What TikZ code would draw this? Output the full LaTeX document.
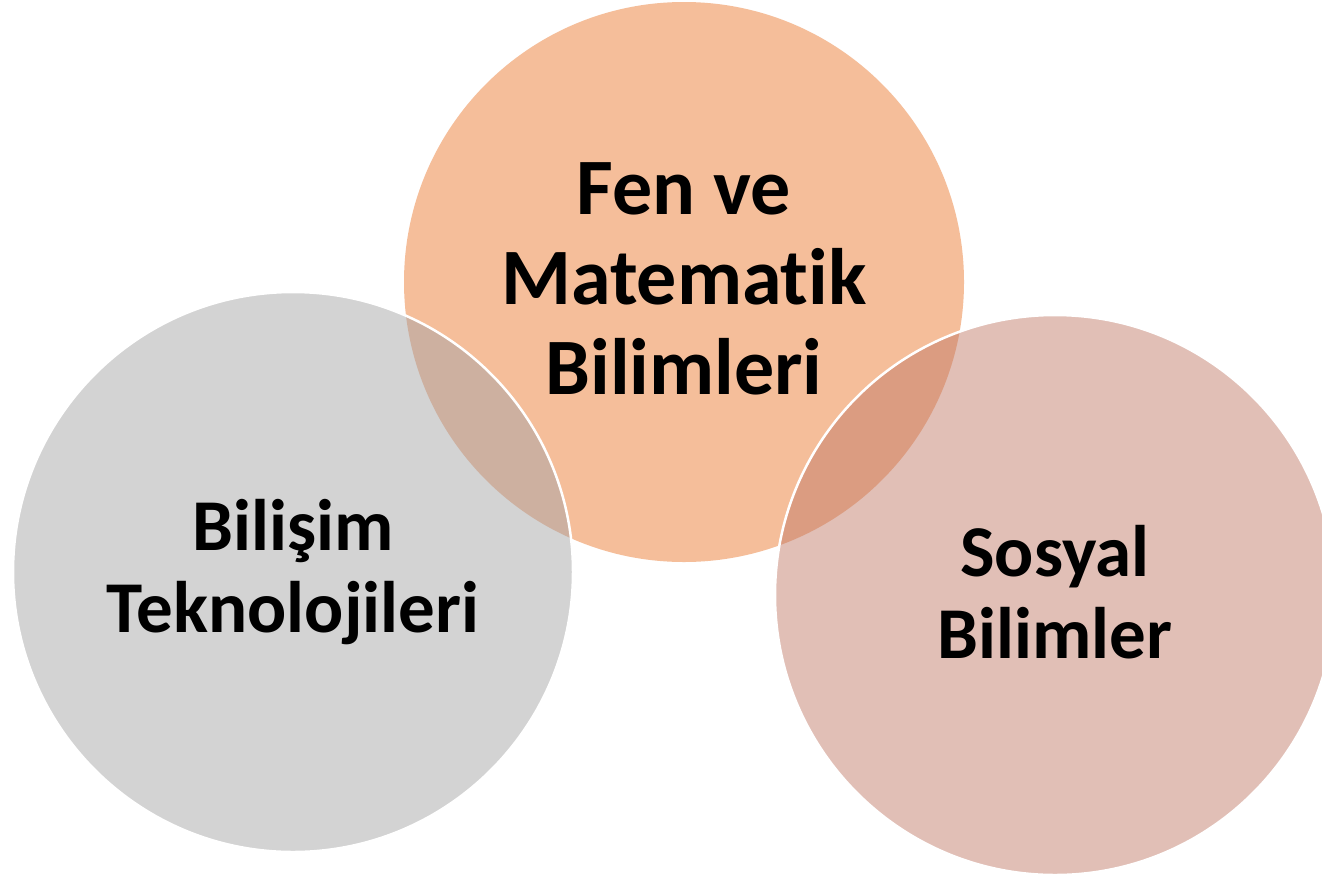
\documentclass[tikz,border=0pt]{standalone}
\usepackage{fontspec}
\setmainfont{Carlito}[Ligatures={NoCommon,NoRare,NoDiscretionary}]
\definecolor{grayc}{RGB}{211,211,211}
\definecolor{orangec}{RGB}{245,190,154}
\definecolor{pinkc}{RGB}{225,191,182}
\definecolor{lensone}{RGB}{205,176,160}
\definecolor{lenstwo}{RGB}{219,156,129}
\tikzset{
  venn/.style={circle, minimum size=560pt, inner sep=0pt},
  rim/.style={draw=white, line width=2.5pt},
  bigtext/.style={font=\bfseries\fontsize{80}{90}\selectfont, align=center, text=black},
  midtext/.style={font=\bfseries\fontsize{73}{82}\selectfont, align=center, text=black}
}
\begin{document}
\begin{tikzpicture}[x=1pt,y=-1pt]
\useasboundingbox (0,0) rectangle (1322,876);
\fill[white] (0,0) rectangle (1322,876);
% circles
\node[venn, fill=orangec] (fen) at (684,282) {};
\node[venn, fill=grayc] (bil) at (293,572) {};
\begin{scope}
  \clip (293,572) circle (280);
  \fill[lensone] (684,282) circle (280);
\end{scope}
\draw[rim] (293,572) circle (280);
\node[venn, fill=pinkc] (sos) at (1055,595) {};
\begin{scope}
  \clip (1055,595) circle (280);
  \fill[lenstwo] (684,282) circle (280);
\end{scope}
\draw[rim] (1055,595) circle (280);
% labels
\node[bigtext] (fent) at (684,279) {Fen ve\\Matematik\\Bilimleri};
\node[midtext] (bilt) at (293,572) {Bilişim\\Teknolojileri};
\node[midtext] (sost) at (1055,592) {Sosyal\\Bilimler};
\end{tikzpicture}
\end{document}
